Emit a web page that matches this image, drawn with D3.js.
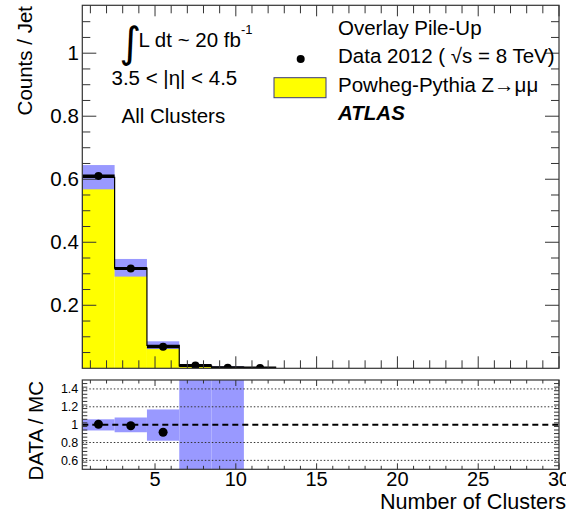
<!DOCTYPE html>
<html>
<head>
<meta charset="utf-8">
<script src="https://cdn.jsdelivr.net/npm/d3@7"></script>
<style>
  html, body { margin: 0; padding: 0; background: #fff; }
  svg { display: block; font-family: "Liberation Sans", Arial, Helvetica, sans-serif; }
</style>
</head>
<body>
<svg id="chart" width="566" height="515"></svg>
<script>
// Bin edges of the cluster-multiplicity histogram
const binEdges = [0.5, 2.5, 4.5, 6.5, 8.5, 10.5, 12.5];
// Data 2012 counts per jet
const dataVals = [0.610, 0.317, 0.068, 0.009, 0.002, 0.001];
// Powheg-Pythia Z->mumu prediction
const mcVals = [0.606, 0.318, 0.073, 0.008, 0.003, 0.000];
// MC uncertainty band (low / high)
const mcBandLo = [0.568, 0.291, 0.061, 0.006, 0.003, 0];
const mcBandHi = [0.645, 0.347, 0.0857, 0.010, 0.006, 0];
// Ratio panel: DATA / MC points and band
const ratioVals = [1.004, 0.988, 0.915];
const ratioBandLo = [0.935, 0.915, 0.82, 0.0, 0.0];
const ratioBandHi = [1.06, 1.08, 1.17, 3.0, 3.0];
// Tick labels
const xTickVals = [5, 10, 15, 20, 25, 30];
const yTickVals = [0.2, 0.4, 0.6, 0.8, 1];
const rTickVals = [0.6, 0.8, 1, 1.2, 1.4];
const rGridVals = [0.6, 0.8, 1.2, 1.4];

const svg = d3.select("#chart");
const FS = 20.5;
const YELLOW = "#ffff00", BAND = "#9999ff";

const L = 82.3, R = 559;
const x = d3.scaleLinear().domain([0.5, 30]).range([L, R]);
const y = d3.scaleLinear().domain([0, 1.152]).range([368.3, 5.3]);
const yr = d3.scaleLinear().domain([0.5, 1.5]).range([469.3, 380]);

const bins = dataVals.map((v, i) => ({
  lo: binEdges[i], hi: binEdges[i + 1], data: v, mc: mcVals[i],
  bLo: mcBandLo[i], bHi: mcBandHi[i]
}));

// ---------- main panel ----------
const main = svg.append("g");
main.append("clipPath").attr("id", "clipMain")
  .append("rect").attr("x", L).attr("y", y(1.152)).attr("width", R - L).attr("height", y(0) - y(1.152));

const plot = main.append("g").attr("clip-path", "url(#clipMain)");

// yellow MC fill
plot.selectAll("rect.mc").data(bins).join("rect")
  .attr("x", d => x(d.lo)).attr("width", d => x(d.hi) - x(d.lo))
  .attr("y", d => y(d.mc)).attr("height", d => y(0) - y(d.mc))
  .attr("fill", YELLOW);

// MC uncertainty band
plot.selectAll("rect.band").data(bins.filter(d => d.bHi > d.bLo)).join("rect")
  .attr("x", d => x(d.lo)).attr("width", d => x(d.hi) - x(d.lo))
  .attr("y", d => y(d.bHi)).attr("height", d => y(d.bLo) - y(d.bHi))
  .attr("fill", BAND);

// MC histogram outline (step)
const stepPts = [[x(binEdges[0]), y(0)]];
bins.forEach(d => { stepPts.push([x(d.lo), y(d.mc)]); stepPts.push([x(d.hi), y(d.mc)]); });
stepPts.push([x(binEdges[binEdges.length - 1]), y(0)]);
plot.append("path").attr("d", d3.line()(stepPts))
  .attr("fill", "none").attr("stroke", "#000").attr("stroke-width", 1.2);

// data: horizontal bin-width bars and markers
plot.selectAll("line.dx").data(bins).join("line")
  .attr("x1", d => x(d.lo)).attr("x2", d => x(d.hi))
  .attr("y1", d => y(d.data)).attr("y2", d => y(d.data))
  .attr("stroke", "#000").attr("stroke-width", 3);
plot.selectAll("circle.dp").data(bins).join("circle")
  .attr("cx", d => x((d.lo + d.hi) / 2)).attr("cy", d => y(d.data)).attr("r", 4)
  .attr("fill", "#000");

// frame
main.append("rect").attr("x", L).attr("y", y(1.152)).attr("width", R - L).attr("height", y(0) - y(1.152))
  .attr("fill", "none").attr("stroke", "#333").attr("stroke-width", 1.2);

// inward tick helpers
function xTicks(g, yPos, dir, majLen, minLen) {
  const minor = d3.range(1, 31);
  g.selectAll(null).data(minor).join("line")
    .attr("x1", d => x(d)).attr("x2", d => x(d))
    .attr("y1", yPos).attr("y2", d => yPos + dir * (d % 5 === 0 ? majLen : minLen))
    .attr("stroke", "#333").attr("stroke-width", 1);
}
function yTicks(g, scale, xPos, dir, vals, majVals, majLen, minLen) {
  g.selectAll(null).data(vals).join("line")
    .attr("y1", d => scale(d)).attr("y2", d => scale(d))
    .attr("x1", xPos).attr("x2", d => xPos + dir * (majVals.some(m => Math.abs(m - d) < 1e-6) ? majLen : minLen))
    .attr("stroke", "#333").attr("stroke-width", 1);
}
const axG = main.append("g");
xTicks(axG, y(0), -1, 12, 8);
xTicks(axG, y(1.152), 1, 11, 8);
const mainYTickAll = d3.range(1, 23).map(i => +(i * 0.05).toFixed(2));
yTicks(axG, y, L, 1, mainYTickAll, yTickVals, 14, 8);
yTicks(axG, y, R, -1, mainYTickAll, yTickVals, 14, 8);

// y axis labels
main.append("g").call(d3.axisLeft(y).tickValues(yTickVals).tickSize(0).tickPadding(3.5)
    .tickFormat(d => d3.format("")(d)))
  .attr("transform", `translate(${L},0)`)
  .call(g => g.select(".domain").remove())
  .selectAll("text").attr("font-size", FS).attr("font-family", "Liberation Sans, Arial, sans-serif").attr("fill", "#000");

svg.append("text").attr("transform", "translate(32,6) rotate(-90)")
  .attr("text-anchor", "end").attr("font-size", FS).text("Counts / Jet");

// annotations: integrated luminosity, eta range, selection
const lum = svg.append("text").attr("x", 119.5).attr("y", 57).attr("font-size", FS);
lum.append("tspan").attr("font-size", 42).attr("font-family", "DejaVu Sans, sans-serif").text("∫");
lum.append("tspan").attr("x", 138.5).attr("dy", -10).text("L dt ~ 20 fb");
lum.append("tspan").attr("dy", -13).attr("font-size", 13).text("-1");
svg.append("text").attr("x", 111.5).attr("y", 85).attr("font-size", FS).text("3.5 < |η| < 4.5");
svg.append("text").attr("x", 121.5).attr("y", 123).attr("font-size", FS).text("All Clusters");

// legend
const lgX = 338;
svg.append("text").attr("x", lgX).attr("y", 35).attr("font-size", FS).text("Overlay Pile-Up");
svg.append("circle").attr("cx", 300.7).attr("cy", 59).attr("r", 4).attr("fill", "#000");
svg.append("text").attr("x", lgX).attr("y", 63.3).attr("font-size", FS).text("Data 2012 ( √s = 8 TeV)");
svg.append("rect").attr("x", 274).attr("y", 77.7).attr("width", 52).attr("height", 20)
  .attr("fill", YELLOW).attr("stroke", "#3a3a7a").attr("stroke-width", 1);
svg.append("text").attr("x", lgX).attr("y", 91.5).attr("font-size", FS).text("Powheg-Pythia Z→μμ");
svg.append("text").attr("x", lgX).attr("y", 120).attr("font-size", FS)
  .attr("font-weight", "bold").attr("font-style", "italic").text("ATLAS");

// ---------- ratio panel ----------
const rp = svg.append("g");
rp.append("clipPath").attr("id", "clipRatio")
  .append("rect").attr("x", L).attr("y", yr(1.5)).attr("width", R - L).attr("height", yr(0.5) - yr(1.5));
const rplot = rp.append("g").attr("clip-path", "url(#clipRatio)");

const rBins = ratioBandLo.map((lo, i) => ({ lo: binEdges[i], hi: binEdges[i + 1], bLo: lo, bHi: ratioBandHi[i] }));
rplot.selectAll("rect.rb").data(rBins).join("rect")
  .attr("x", d => x(d.lo)).attr("width", d => x(d.hi) - x(d.lo))
  .attr("y", d => yr(d.bHi)).attr("height", d => yr(d.bLo) - yr(d.bHi))
  .attr("fill", BAND);

rplot.selectAll("line.grid").data(rGridVals).join("line")
  .attr("x1", L).attr("x2", R).attr("y1", d => yr(d)).attr("y2", d => yr(d))
  .attr("stroke", "#333").attr("stroke-width", 1).attr("stroke-dasharray", "1.5,2");
rplot.append("line").attr("x1", L).attr("x2", R).attr("y1", yr(1)).attr("y2", yr(1))
  .attr("stroke", "#000").attr("stroke-width", 2).attr("stroke-dasharray", "6,4");

rplot.selectAll("circle.rp").data(ratioVals).join("circle")
  .attr("cx", (d, i) => x((binEdges[i] + binEdges[i + 1]) / 2)).attr("cy", d => yr(d)).attr("r", 4.5)
  .attr("fill", "#000");

rp.append("rect").attr("x", L).attr("y", yr(1.5)).attr("width", R - L).attr("height", yr(0.5) - yr(1.5))
  .attr("fill", "none").attr("stroke", "#333").attr("stroke-width", 1.2);

const rAx = rp.append("g");
xTicks(rAx, yr(0.5), -1, 6, 3.5);
xTicks(rAx, yr(1.5), 1, 6, 3.5);
const rYTickAll = d3.range(0, 26).map(i => +(0.5 + i * 0.04).toFixed(2)).filter(v => v > 0.5 && v < 1.5);
yTicks(rAx, yr, L, 1, rYTickAll, rTickVals, 9, 5);
yTicks(rAx, yr, R, -1, rYTickAll, rTickVals, 9, 5);

rp.append("g").attr("transform", `translate(${L},0)`)
  .call(d3.axisLeft(yr).tickValues(rTickVals).tickSize(0).tickPadding(4).tickFormat(d3.format("")))
  .call(g => g.select(".domain").remove())
  .selectAll("text").attr("font-size", 12.5).attr("font-family", "Liberation Sans, Arial, sans-serif").attr("fill", "#000");

// x tick labels of the ratio panel
rp.append("g").selectAll("text").data(xTickVals).join("text")
  .attr("x", d => x(d)).attr("y", 485.5).attr("text-anchor", "middle")
  .attr("font-size", 20).text(d => d3.format("d")(d));

svg.append("text").attr("x", 566).attr("y", 509).attr("text-anchor", "end")
  .attr("font-size", 21.6).text("Number of Clusters");
svg.append("text").attr("transform", "translate(43,381) rotate(-90)")
  .attr("text-anchor", "end").attr("font-size", FS).text("DATA / MC");
</script>
</body>
</html>
